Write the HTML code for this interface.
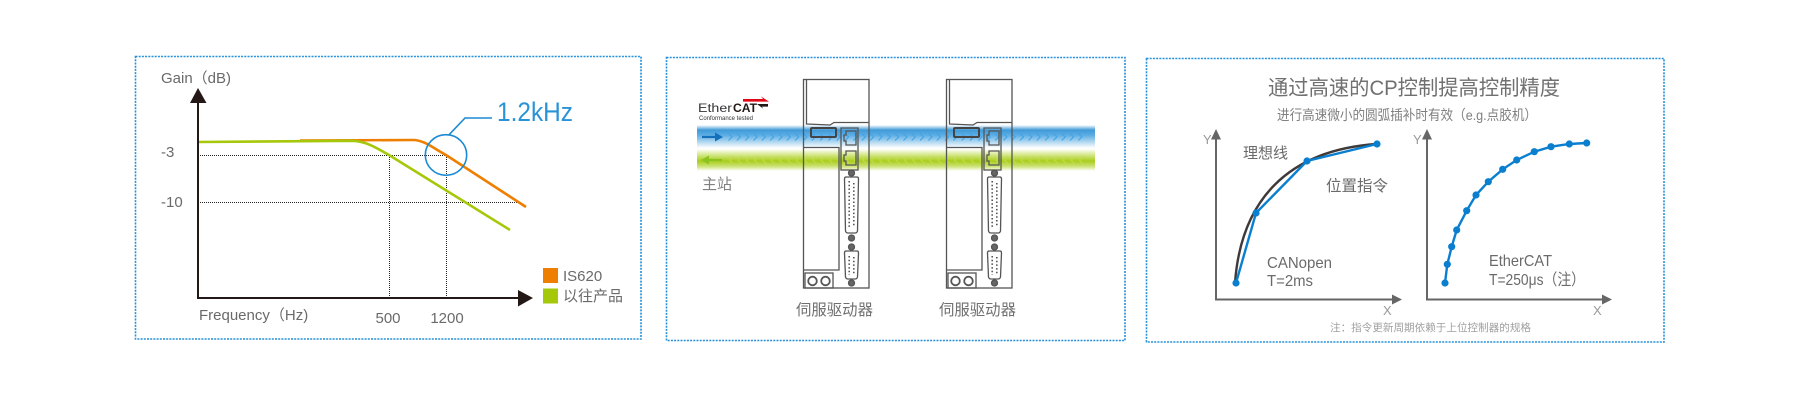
<!DOCTYPE html>
<html><head><meta charset="utf-8">
<style>
html,body{margin:0;padding:0;background:#fff;}
svg{display:block;}
text{font-family:"Liberation Sans","Noto Sans CJK SC",sans-serif;}
</style></head><body>
<svg width="1800" height="401" viewBox="0 0 1800 401" xmlns="http://www.w3.org/2000/svg">
<defs>
 <linearGradient id="gb" x1="0" y1="0" x2="0" y2="1">
  <stop offset="0" stop-color="#ffffff"/>
  <stop offset="0.22" stop-color="#3f9ad8"/>
  <stop offset="0.45" stop-color="#5eaee4"/>
  <stop offset="0.75" stop-color="#b5daf2"/>
  <stop offset="1" stop-color="#ffffff"/>
 </linearGradient>
 <linearGradient id="gg" x1="0" y1="0" x2="0" y2="1">
  <stop offset="0" stop-color="#ffffff"/>
  <stop offset="0.25" stop-color="#d6e98f"/>
  <stop offset="0.55" stop-color="#a9cd1c"/>
  <stop offset="0.8" stop-color="#cfe47c"/>
  <stop offset="1" stop-color="#ffffff"/>
 </linearGradient>
 <pattern id="pb" x="727" y="0" width="8.33" height="401" patternUnits="userSpaceOnUse">
  <path d="M1.5 133.5 L5 137 L1.5 140.5" stroke="#3fa3e6" fill="none" stroke-width="1.1"/>
 </pattern>
 <pattern id="pg" x="728" y="0" width="8.33" height="401" patternUnits="userSpaceOnUse">
  <path d="M5 156.5 L1.5 160 L5 163.5" stroke="#c2dc48" fill="none" stroke-width="1.1"/>
 </pattern>
 <g id="drive" fill="none" stroke="#555" stroke-width="1.3">
  <rect x="803.5" y="79.5" width="65.5" height="208.5"/>
  <path d="M806.5 80 L806.5 124 L830 125 L834 122.5 L869 122.5"/>
  <rect x="811" y="128" width="25" height="9" rx="1" stroke="#444" stroke-width="2"/>
  <rect x="841" y="128" width="17" height="42"/>
  <path d="M856 131 L846 131 L846 135 L844 135 L844 141 L846 141 L846 145 L856 145 Z"/>
  <path d="M856 151 L846 151 L846 155 L844 155 L844 161 L846 161 L846 165 L856 165 Z"/>
  <path d="M804 147.5 L839 147.5 L839 270 L804 270"/>
  <circle cx="851.5" cy="173" r="3" fill="#666"/>
  <path d="M846 177 L857 177 Q858.5 177 858.5 179 L857.5 231 Q857 233 855 233 L848 233 Q846 233 845.5 231 L844.5 179 Q844.5 177 846 177 Z"/>
  <line x1="849.2" y1="181" x2="849.2" y2="229" stroke-dasharray="1.5 2.2" stroke-width="1.6"/>
  <line x1="853.8" y1="183" x2="853.8" y2="227" stroke-dasharray="1.5 2.2" stroke-width="1.6"/>
  <circle cx="851.5" cy="238" r="3" fill="#666"/>
  <circle cx="851.5" cy="247" r="3" fill="#666"/>
  <path d="M846 251 L857 251 Q858.5 251 858.5 253 L857.5 277 Q857 279 855 279 L848 279 Q846 279 845.5 277 L844.5 253 Q844.5 251 846 251 Z"/>
  <line x1="849.2" y1="256" x2="849.2" y2="275" stroke-dasharray="1.5 2.2" stroke-width="1.6"/>
  <line x1="853.8" y1="257" x2="853.8" y2="274" stroke-dasharray="1.5 2.2" stroke-width="1.6"/>
  <circle cx="851.5" cy="283" r="3" fill="#666"/>
  <rect x="805" y="273" width="28" height="15"/>
  <circle cx="812.5" cy="281" r="4.3" stroke-width="1.8"/>
  <circle cx="825.5" cy="281" r="4.3" stroke-width="1.8"/>
 </g>
</defs>

<!-- Panel borders -->
<g fill="none" stroke="#2790d9" stroke-width="1.6" stroke-dasharray="2 1.2">
 <rect x="135.5" y="56.5" width="505.5" height="282.5"/>
 <rect x="666.5" y="57.5" width="458.5" height="283"/>
 <rect x="1146.5" y="58.5" width="517.5" height="283.5"/>
</g>

<!-- ========== LEFT PANEL ========== -->
<g fill="#6a6a6a" font-size="15">
 <text x="161" y="83">Gain（dB)</text>
 <text x="161" y="157">-3</text>
 <text x="161" y="207">-10</text>
 <text x="199" y="320">Frequency（Hz)</text>
 <text x="388" y="323" text-anchor="middle">500</text>
 <text x="447" y="323" text-anchor="middle">1200</text>
</g>
<g stroke="#222" stroke-width="1" stroke-dasharray="1 1" fill="none">
 <line x1="198" y1="155.5" x2="446" y2="155.5"/>
 <line x1="198" y1="202.5" x2="518" y2="202.5"/>
 <line x1="389.5" y1="155" x2="389.5" y2="298"/>
 <line x1="446.5" y1="155" x2="446.5" y2="298"/>
</g>
<path d="M300 140.5 L413 140 C424 140 433 148 446 155 L526 207" fill="none" stroke="#ee7f00" stroke-width="2.6"/>
<path d="M198 142 L352 140.8 C365 141 375 147 389 155 L510 230" fill="none" stroke="#a6c80a" stroke-width="2.6"/>
<g stroke="#231815" stroke-width="2" fill="none">
 <line x1="198" y1="100" x2="198" y2="299"/>
 <line x1="197" y1="298" x2="520" y2="298"/>
</g>
<polygon points="198,88 190,103 206.5,103" fill="#231815"/>
<polygon points="533,298 518,290 518,306.5" fill="#231815"/>
<ellipse cx="446" cy="155" rx="20.7" ry="20.3" fill="none" stroke="#1a8ad4" stroke-width="1.6"/>
<path d="M449 134.8 L465 118 L492 118" fill="none" stroke="#1a8ad4" stroke-width="1.6"/>
<text x="497" y="121" font-size="27" fill="#2a93d8" textLength="76" lengthAdjust="spacingAndGlyphs">1.2kHz</text>
<rect x="543" y="268" width="15" height="15" fill="#ee7f00"/>
<rect x="543" y="288.5" width="15" height="15" fill="#a6c80a"/>
<text x="563" y="281" font-size="15" fill="#6a6a6a">IS620</text>
<text x="563" y="301" font-size="15" fill="#6a6a6a">以往产品</text>

<!-- ========== MIDDLE PANEL ========== -->
<rect x="697" y="125" width="398" height="23" fill="url(#gb)"/>
<rect x="697" y="149" width="398" height="22" fill="url(#gg)"/>
<rect x="727" y="125" width="358" height="23" fill="url(#pb)"/>
<rect x="728" y="149" width="356" height="22" fill="url(#pg)"/>
<line x1="702" y1="137" x2="717" y2="137" stroke="#1470bb" stroke-width="2.2"/>
<polygon points="723,137 715,132.5 715,141.5" fill="#1470bb"/>
<line x1="707" y1="160" x2="722" y2="160" stroke="#8cc31f" stroke-width="2.2"/>
<polygon points="701,160 709,155.5 709,164.5" fill="#8cc31f"/>
<text x="698" y="112" font-size="11.5" fill="#333" textLength="34" lengthAdjust="spacingAndGlyphs">Ether</text>
<text x="733" y="112" font-size="12" font-weight="bold" fill="#231815" textLength="24" lengthAdjust="spacingAndGlyphs">CAT</text>
<polygon points="743,99 763,99 761,96.5 769,101.6 743,101.6" fill="#e30613"/>
<polygon points="768,104 757,104 763,108.5 762,106.6 768,106.6" fill="#231815"/>
<text x="699" y="120" font-size="6" fill="#333" textLength="54" lengthAdjust="spacingAndGlyphs">Conformance tested</text>
<text x="702" y="189" font-size="15" fill="#808080">主站</text>
<use href="#drive"/>
<use href="#drive" transform="translate(143,0)"/>
<text x="796" y="315" font-size="15.4" fill="#707070">伺服驱动器</text>
<text x="939" y="315" font-size="15.4" fill="#707070">伺服驱动器</text>

<!-- ========== RIGHT PANEL ========== -->
<text x="1268" y="95" font-size="21" fill="#707070" textLength="292" lengthAdjust="spacingAndGlyphs">通过高速的CP控制提高控制精度</text>
<text x="1277" y="120" font-size="14" fill="#808080" textLength="260" lengthAdjust="spacingAndGlyphs">进行高速微小的圆弧插补时有效（e.g.点胶机）</text>
<g stroke="#666" stroke-width="2" fill="none">
 <line x1="1216" y1="139" x2="1216" y2="300"/>
 <line x1="1215" y1="299.5" x2="1394" y2="299.5"/>
 <line x1="1427" y1="139" x2="1427" y2="300"/>
 <line x1="1426" y1="299.5" x2="1604" y2="299.5"/>
</g>
<g fill="#666">
 <polygon points="1216,129 1211,139.5 1221,139.5"/>
 <polygon points="1402,299.5 1392,294.5 1392,304.5"/>
 <polygon points="1427,129 1422,139.5 1432,139.5"/>
 <polygon points="1612,299.5 1602,294.5 1602,304.5"/>
</g>
<g fill="#999" font-size="13">
 <text x="1203" y="144">Y</text>
 <text x="1383" y="315">X</text>
 <text x="1413" y="144">Y</text>
 <text x="1593" y="315">X</text>
</g>
<path d="M1235 283 C1241 200 1288 150 1377 144" fill="none" stroke="#3e3a39" stroke-width="2.4"/>
<polyline points="1236,283 1256,213 1307,161 1377,144" fill="none" stroke="#0a7fcf" stroke-width="2.4"/>
<g fill="#0a7fcf">
 <circle cx="1236" cy="283" r="3.6"/>
 <circle cx="1256" cy="213" r="3.6"/>
 <circle cx="1307" cy="161" r="3.6"/>
 <circle cx="1377" cy="144" r="3.6"/>
</g>
<text x="1243" y="158" font-size="15" fill="#6a6a6a">理想线</text>
<text x="1326" y="191" font-size="15.5" fill="#6a6a6a">位置指令</text>
<text x="1267" y="268" font-size="16" fill="#6a6a6a" textLength="65" lengthAdjust="spacingAndGlyphs">CANopen</text>
<text x="1267" y="286" font-size="16" fill="#6a6a6a" textLength="46" lengthAdjust="spacingAndGlyphs">T=2ms</text>
<polyline points="1445,283 1447.3,264.3 1451.7,246.7 1456.7,230 1466.7,210.7 1476,195 1488.3,181.7 1502.7,169.3 1516.7,160 1534.3,151.7 1551,146.7 1569.3,144 1586.7,143" fill="none" stroke="#0a7fcf" stroke-width="2.4"/>
<g fill="#0a7fcf">
 <circle cx="1445" cy="283" r="3.6"/>
 <circle cx="1447.3" cy="264.3" r="3.6"/>
 <circle cx="1451.7" cy="246.7" r="3.6"/>
 <circle cx="1456.7" cy="230" r="3.6"/>
 <circle cx="1466.7" cy="210.7" r="3.6"/>
 <circle cx="1476" cy="195" r="3.6"/>
 <circle cx="1488.3" cy="181.7" r="3.6"/>
 <circle cx="1502.7" cy="169.3" r="3.6"/>
 <circle cx="1516.7" cy="160" r="3.6"/>
 <circle cx="1534.3" cy="151.7" r="3.6"/>
 <circle cx="1551" cy="146.7" r="3.6"/>
 <circle cx="1569.3" cy="144" r="3.6"/>
 <circle cx="1586.7" cy="143" r="3.6"/>
</g>
<text x="1489" y="266" font-size="16" fill="#6a6a6a" textLength="63" lengthAdjust="spacingAndGlyphs">EtherCAT</text>
<text x="1489" y="285" font-size="16" fill="#6a6a6a" textLength="96" lengthAdjust="spacingAndGlyphs">T=250μs（注）</text>
<text x="1330" y="331" font-size="10.5" fill="#a0a0a0" textLength="201" lengthAdjust="spacingAndGlyphs">注：指令更新周期依赖于上位控制器的规格</text>
</svg>
</body></html>
